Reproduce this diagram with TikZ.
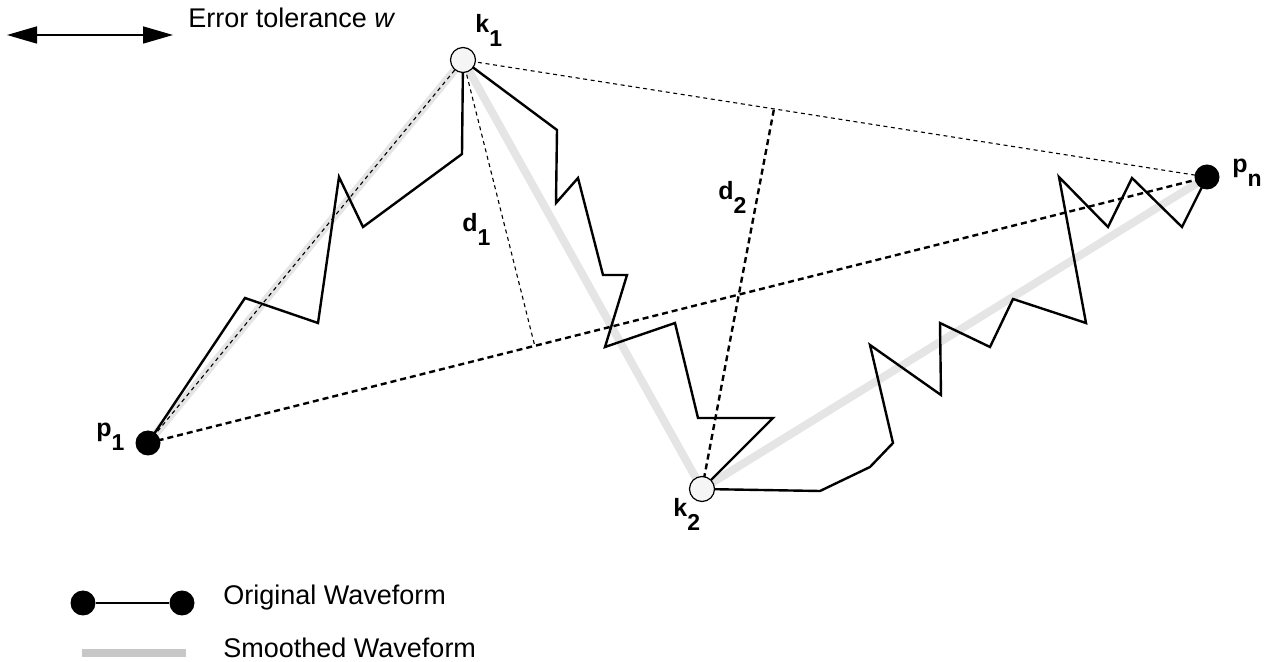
\documentclass[tikz,border=0pt]{standalone}
\usepackage{fontspec}
\setmainfont{Liberation Sans}
\usetikzlibrary{arrows.meta,calc,backgrounds}
\newcommand{\lblsub}[2]{\textbf{#1}\raisebox{-7pt}{\fontsize{11.5}{11.5}\selectfont\textbf{#2}}}
\tikzset{
  smooth wave/.style={line width=4pt, draw=black!10, line cap=butt},
  orig wave/.style={line width=1.2pt, draw=black},
  thin dash/.style={line width=0.55pt, dash pattern=on 2pt off 1.8pt},
  thick dash/.style={line width=1.2pt, dash pattern=on 3pt off 2pt},
  keypt/.style={circle, draw=black, line width=0.6pt, fill=black!4, minimum size=12.5pt, inner sep=0pt},
  endpt/.style={circle, fill=black, minimum size=12.5pt, inner sep=0pt},
  lbl/.style={anchor=base west, inner sep=0pt, font=\fontsize{12.5}{12.5}\selectfont},
  txt/.style={anchor=base west, inner sep=0pt, font=\fontsize{13.5}{13.5}\selectfont},
}
\begin{document}
\begin{tikzpicture}[x=0.5pt,y=-0.5pt]
\useasboundingbox (0,0) rectangle (1265,662);
% key points
\node[endpt] (p1) at (148,443) {};
\node[endpt] (pn) at (1207,177) {};
\node[keypt] (k1) at (463,60) {};
\node[keypt] (k2) at (702,489) {};
\coordinate (f1) at ($(p1.center)!(k1.center)!(pn.center)$);
\coordinate (f2) at ($(k1.center)!0.418!(pn.center)$);
\begin{pgfonlayer}{background}
% smoothed waveform
\draw[smooth wave] (p1.center) -- (k1.center) -- (k2.center) -- (pn.center);
% construction lines
\draw[thin dash] (p1.center) -- (k1.center);
\draw[thin dash] (k1.center) -- (pn.center);
\draw[thin dash] (k1.center) -- (f1);
\draw[thick dash] (p1.center) -- (pn.center);
\draw[thick dash] (k2.center) -- (f2);
% original waveform
\draw[orig wave] (p1.center) -- (245,298) -- (318,323) -- (339,177) -- (363,227) -- (462,154) -- (k1.center);
\draw[orig wave] (k1.center) -- (557,130) -- (556,203) -- (578,178) -- (603,275) -- (627,275) -- (605,347) -- (675,323) -- (698,418) -- (773,418) -- (k2.center);
\draw[orig wave] (k2.center) -- (820,491) -- (870,467) -- (893,443) -- (870,345) -- (941,395) -- (940,323) -- (990,347) -- (1013,299) -- (1086,323) -- (1059,177) -- (1108,227) -- (1132,178) -- (1182,227) -- (pn.center);
\end{pgfonlayer}
% labels
\node[lbl] (lp1) at (96,437) {\lblsub{p}{1}};
\node[lbl] (lk1) at (475,33) {\lblsub{k}{1}};
\node[lbl] (lk2) at (673,517) {\lblsub{k}{2}};
\node[lbl] (lpn) at (1232,173) {\lblsub{p}{n}};
\node[lbl] (ld1) at (462,232) {\lblsub{d}{1}};
\node[lbl] (ld2) at (718,200) {\lblsub{d}{2}};
% error tolerance
\coordinate (ea) at (7,35);
\coordinate (eb) at (173,35);
\draw[line width=0.8pt, {Triangle[length=15pt,width=8.5pt]}-{Triangle[length=15pt,width=8.5pt]}] (ea) -- (eb);
\node[txt] (et) at (188,28) {Error tolerance \textit{w}};
% legend
\node[endpt] (l1) at (83,603) {};
\node[endpt] (l2) at (182,603) {};
\draw[line width=0.8pt] (l1) -- (l2);
\node[txt] (t1) at (223,605) {Original Waveform};
\coordinate (g1) at (82,653);
\coordinate (g2) at (186,653);
\draw[line width=4pt, draw=black!22] (g1) -- (g2);
\node[txt] (t2) at (223,658) {Smoothed Waveform};
\end{tikzpicture}
\end{document}
